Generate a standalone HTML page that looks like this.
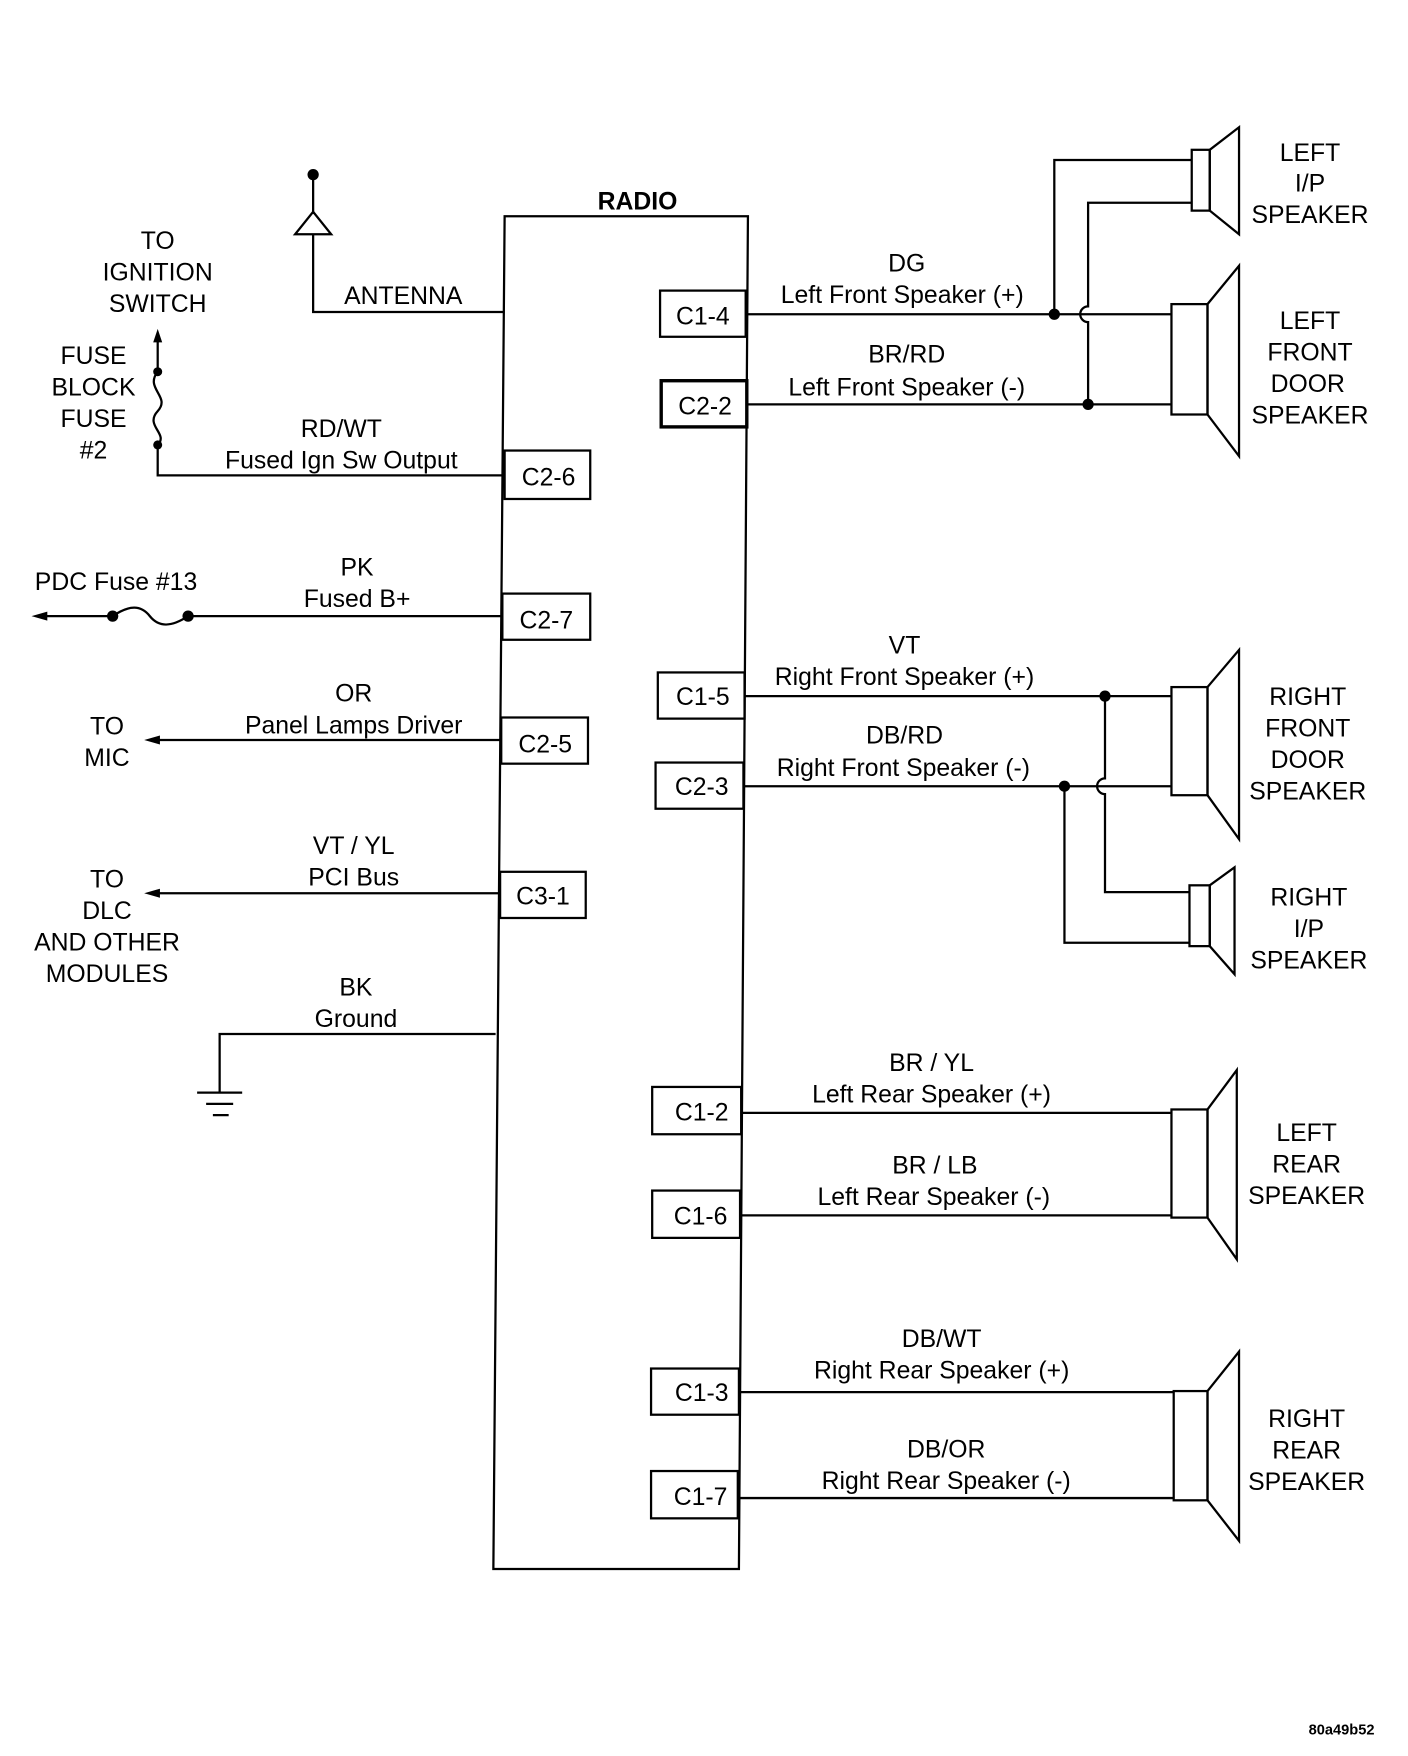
<!DOCTYPE html>
<html><head><style>html,body{margin:0;padding:0;background:#fff}svg{display:block}text{font-family:"Liberation Sans",sans-serif;font-size:22px;fill:#000;text-anchor:middle}</style></head>
<body>
<svg width="1408" height="1756" viewBox="0 0 1250 1559" preserveAspectRatio="none" xmlns="http://www.w3.org/2000/svg">
<g fill="none" stroke="#000" stroke-width="2">
<polygon points="448,192 664,192 656,1393 438,1393"/>
<!-- right connector boxes -->
<rect x="586" y="258" width="76" height="41"/>
<rect x="587" y="338" width="76" height="41" stroke-width="3"/>
<rect x="584" y="597" width="77" height="41"/>
<rect x="582" y="677" width="78" height="41"/>
<rect x="579" y="965" width="79" height="42"/>
<rect x="579" y="1057" width="78" height="42"/>
<rect x="578" y="1215" width="78" height="41"/>
<rect x="578" y="1306" width="77" height="42"/>
<!-- left boxes -->
<rect x="448" y="400" width="76" height="43"/>
<rect x="446" y="527" width="78" height="41"/>
<rect x="445" y="637" width="77" height="41"/>
<rect x="444" y="774" width="76" height="41"/>
<!-- right wires -->
<line x1="662" y1="279" x2="1040" y2="279"/>
<line x1="663" y1="359" x2="1040" y2="359"/>
<polyline points="936,279 936,142 1058,142"/>
<path d="M966,359 V286 A7,7 0 0 1 966,272 V180 H1058"/>
<rect x="1058" y="133" width="16" height="54"/>
<polygon points="1074,133 1100,113 1100,208 1074,187"/>
<rect x="1040" y="270" width="32" height="98"/>
<polygon points="1072,270 1100,236 1100,405 1072,368"/>
<line x1="661" y1="618" x2="1040" y2="618"/>
<line x1="660" y1="698" x2="1040" y2="698"/>
<path d="M981,618 V691 A7,7 0 0 0 981,705 V792 H1056"/>
<polyline points="945,698 945,837 1056,837"/>
<rect x="1040" y="610" width="32" height="96"/>
<polygon points="1072,610 1100,577 1100,745 1072,706"/>
<rect x="1056" y="786" width="18" height="54"/>
<polygon points="1074,786 1096,770 1096,865 1074,840"/>
<line x1="658" y1="988" x2="1040" y2="988"/>
<line x1="657" y1="1079" x2="1040" y2="1079"/>
<rect x="1040" y="985" width="32" height="96"/>
<polygon points="1072,985 1098,950 1098,1118 1072,1081"/>
<line x1="656" y1="1236" x2="1042" y2="1236"/>
<line x1="655" y1="1330" x2="1042" y2="1330"/>
<rect x="1042" y="1235" width="30" height="97"/>
<polygon points="1072,1235 1100,1200 1100,1368 1072,1332"/>
<!-- antenna -->
<line x1="278" y1="155" x2="278" y2="190"/>
<polygon points="262,208 294,208 278,188"/>
<polyline points="278,208 278,277 448,277"/>
<!-- ignition -->
<line x1="140" y1="300" x2="140" y2="330"/>
<path d="M140,330 C128,345 152,352 140,365 C128,378 150,385 140,395"/>
<polyline points="140,395 140,422 448,422"/>
<!-- PDC -->
<line x1="36" y1="547" x2="100" y2="547"/>
<path d="M100,547 C115,537 125,537 133,547 C141,557 152,557 167,547"/>
<line x1="167" y1="547" x2="446" y2="547"/>
<line x1="136" y1="657" x2="445" y2="657"/>
<line x1="136" y1="793" x2="444" y2="793"/>
<polyline points="440,918 195,918 195,970"/>
<line x1="175" y1="970" x2="215" y2="970"/>
<line x1="183" y1="980" x2="207" y2="980"/>
<line x1="189" y1="990" x2="203" y2="990"/>
</g>
<g fill="#000">
<circle cx="936" cy="279" r="5"/><circle cx="966" cy="359" r="5"/>
<circle cx="981" cy="618" r="5"/><circle cx="945" cy="698" r="5"/>
<circle cx="278" cy="155" r="5"/>
<circle cx="140" cy="330" r="4"/><circle cx="140" cy="395" r="4"/>
<circle cx="100" cy="547" r="5"/><circle cx="167" cy="547" r="5"/>
<polygon points="140,292 136,304 144,304"/>
<polygon points="28,547 42,543 42,551"/>
<polygon points="128,657 142,653 142,661"/>
<polygon points="128,793 142,789 142,797"/>
</g>
<text x="566" y="186" style="font-weight:bold">RADIO</text>
<text x="624" y="288">C1-4</text><text x="626" y="368">C2-2</text>
<text x="624" y="626">C1-5</text><text x="623" y="706">C2-3</text>
<text x="623" y="995">C1-2</text><text x="622" y="1087">C1-6</text>
<text x="623" y="1244">C1-3</text><text x="622" y="1336">C1-7</text>
<text x="487" y="431">C2-6</text><text x="485" y="558">C2-7</text>
<text x="484" y="668">C2-5</text><text x="482" y="803">C3-1</text>
<text x="805" y="241">DG</text><text x="801" y="269">Left Front Speaker (+)</text>
<text x="805" y="322">BR/RD</text><text x="805" y="351">Left Front Speaker (-)</text>
<text x="803" y="580">VT</text><text x="803" y="608">Right Front Speaker (+)</text>
<text x="803" y="660">DB/RD</text><text x="802" y="689">Right Front Speaker (-)</text>
<text x="827" y="951">BR / YL</text><text x="827" y="979">Left Rear Speaker (+)</text>
<text x="830" y="1042">BR / LB</text><text x="829" y="1070">Left Rear Speaker (-)</text>
<text x="836" y="1196">DB/WT</text><text x="836" y="1224">Right Rear Speaker (+)</text>
<text x="840" y="1294">DB/OR</text><text x="840" y="1322">Right Rear Speaker (-)</text>
<text x="1163" y="143">LEFT</text><text x="1163" y="170">I/P</text><text x="1163" y="198">SPEAKER</text>
<text x="1163" y="292">LEFT</text><text x="1163" y="320">FRONT</text><text x="1161" y="348">DOOR</text><text x="1163" y="376">SPEAKER</text>
<text x="1161" y="626">RIGHT</text><text x="1161" y="654">FRONT</text><text x="1161" y="682">DOOR</text><text x="1161" y="710">SPEAKER</text>
<text x="1162" y="804">RIGHT</text><text x="1162" y="832">I/P</text><text x="1162" y="860">SPEAKER</text>
<text x="1160" y="1013">LEFT</text><text x="1160" y="1041">REAR</text><text x="1160" y="1069">SPEAKER</text>
<text x="1160" y="1267">RIGHT</text><text x="1160" y="1295">REAR</text><text x="1160" y="1323">SPEAKER</text>
<text x="358" y="270">ANTENNA</text>
<text x="140" y="221">TO</text><text x="140" y="249">IGNITION</text><text x="140" y="277">SWITCH</text>
<text x="83" y="323">FUSE</text><text x="83" y="351">BLOCK</text><text x="83" y="379">FUSE</text><text x="83" y="407">#2</text>
<text x="303" y="388">RD/WT</text><text x="303" y="416">Fused Ign Sw Output</text>
<text x="103" y="524">PDC Fuse #13</text>
<text x="317" y="511">PK</text><text x="317" y="539">Fused B+</text>
<text x="314" y="623">OR</text><text x="314" y="651">Panel Lamps Driver</text>
<text x="95" y="652">TO</text><text x="95" y="680">MIC</text>
<text x="314" y="758">VT / YL</text><text x="314" y="786">PCI Bus</text>
<text x="95" y="788">TO</text><text x="95" y="816">DLC</text><text x="95" y="844">AND OTHER</text><text x="95" y="872">MODULES</text>
<text x="316" y="884">BK</text><text x="316" y="912">Ground</text>
<text x="1191" y="1540" style="font-size:13px;font-weight:bold">80a49b52</text>
</svg>
</body></html>
